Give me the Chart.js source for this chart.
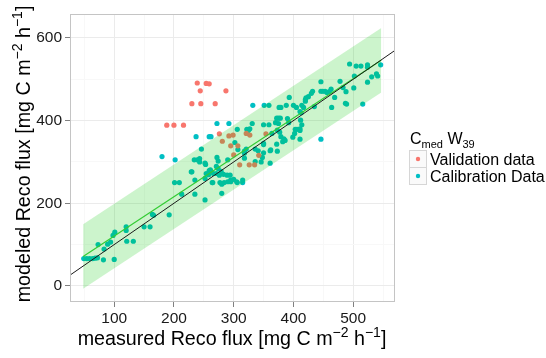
<!DOCTYPE html>
<html>
<head>
<meta charset="utf-8">
<script src="https://cdn.jsdelivr.net/npm/chart.js@4.4.0/dist/chart.umd.min.js"></script>
<style>
  html, body { margin: 0; padding: 0; background: #fff; }
  canvas { display: block; }
</style>
</head>
<body>
<canvas id="chart" width="546" height="358"></canvas>
<script>
// Calibration data (teal) as [measured, modeled]
const calibrationPoints = [
  [49,66],[54,66],[59,66],[64,66],[68,67],[72,68],[73,100],[82,63],[83,89],[89,101],
  [94,106],[98,122],[101,130],[100,64],[120,143],[120,134],[121,108],[132,108],[150,143],[160,143],
  [164,173],[166,171],[192,172],[201,250],[209,250],[213,222],[235,222],[229,276],[235,256],
  [180,313],[202,305],[237,361],[259,361],[262,361],[246,331],[234,305],[239,305],[243,308],[243,300],
  [253,294],[230,276],[259,279],[262,277],[274,302],[271,289],[254,272],[266,272],[271,272],[276,268],
  [283,270],[289,268],[294,268],[265,250],[277,250],[284,250],[295,252],[295,256],[306,250],[315,256],
  [315,250],[280,246],[280,224],
  [272,393],[292,393],[306,379],[322,379],[327,380],[331,393],[350,390],[359,390],[370,395],[375,393],
  [364,369],[373,377],[377,372],[384,356],[386,352],[382,349],[402,369],[406,379],[411,376],[414,390],
  [302,347],[318,326],[321,331],[336,331],[341,327],[350,342],[362,329],[373,326],[346,300],[290,305],
  [272,311],[252,297],[261,281],[274,284],[279,277],[258,269],[252,260],[290,252],[264,250],[252,208],
  [332,437],[351,437],[359,437],[376,432],[379,432],[388,437],[393,456],[400,437],[405,432],[414,437],
  [417,432],[421,455],[425,458],[430,466],[432,471],[435,434],[446,471],[449,471],[453,471],[464,432],
  [446,355],[325,377],[323,369],[372,406],[375,406],[378,406],[392,395],[390,405],[413,419],[403,379],
  [411,355],[379,361],[399,360],[372,343],[350,345],[361,327],[318,321],[350,322],[300,258],[305,252],
  [307,330],[318,309],[336,301],[361,297],[348,311],
  [494,537],[505,532],[513,532],[524,535],[524,529],[546,535],[541,508],[531,506],[524,493],[502,508],
  [501,479],[488,470],[478,495],[487,442],[489,440],[516,440],[469,456],[463,476],[446,494],[456,468],
  [460,470],[420,451],[420,447],[411,422],[412,401],[411,380],[539,513],[483,480]
];

// Validation data (red)
const validationPoints = [
  [188,389],[200,389],[216,389],[230,441],[245,441],[269,441],[239,491],[254,490],[259,489],[244,472],
  [287,472],[276,368],[281,350],[292,363],[299,365],[295,339],[307,339],[321,369],[327,365],[354,368],
  [300,317],[310,293],[326,293],[335,293],[342,316]
];

// lines: 1:1 line, fitted line and its band
const oneToOneX = [26, 570];
const fitX = [48, 547];
const fitY = [71, 546];
const bandUpper = [149, 624];
const bandLower = [-7, 468];

// axes
const xRange = [26, 570];
const yRange = [-39, 658];
const xTicks = [100, 200, 300, 400, 500];
const xMinor = [50, 150, 250, 350, 450, 550];
const yTicks = [0, 200, 400, 600];
const yMinor = [100, 300, 500];

const TEAL = '#00BFC4';
const RED = '#F8766D';
const FONT = '"Liberation Sans", Arial, Helvetica, sans-serif';

const toXY = arr => arr.map(p => ({ x: p[0], y: p[1] }));
const isMajor = (v, majors) => majors.includes(v);

function setTicks(majors, minors) {
  return scale => {
    scale.ticks = majors.concat(minors).sort((a, b) => a - b).map(v => ({ value: v }));
  };
}

function gridColor(majors) {
  return c => (c.tick && isMajor(c.tick.value, majors)) ? '#ebebeb' : '#f8f8f8';
}
function tickColor(majors) {
  return c => (c.tick && isMajor(c.tick.value, majors)) ? '#808080' : 'rgba(0,0,0,0)';
}

// draw a string with super/subscripts, centred on 0 at baseline 0
function drawRich(ctx, parts, size) {
  const small = Math.round(size * 0.72);
  let total = 0;
  parts.forEach(p => {
    ctx.font = (p.sup || p.sub ? small : size) + 'px ' + FONT;
    p.w = ctx.measureText(p.t).width;
    total += p.w;
  });
  let x = -total / 2;
  parts.forEach(p => {
    ctx.font = (p.sup || p.sub ? small : size) + 'px ' + FONT;
    let dy = 0;
    if (p.sup) dy = -size * 0.42;
    if (p.sub) dy = size * 0.22;
    ctx.fillText(p.t, x, dy);
    x += p.w;
  });
  return total;
}

const decorations = {
  id: 'decorations',
  afterDraw(chart) {
    const ctx = chart.ctx;
    const a = chart.chartArea;
    ctx.save();
    // panel border
    ctx.strokeStyle = '#c4c4c4';
    ctx.lineWidth = 1;
    ctx.strokeRect(a.left + 0.5, a.top + 0.5, a.right - a.left - 1, a.bottom - a.top - 1);

    ctx.fillStyle = '#000';
    ctx.textBaseline = 'alphabetic';
    ctx.textAlign = 'left';
    const unit = [{ t: ' [mg C m' }, { t: '\u22122', sup: true }, { t: ' h' }, { t: '\u22121', sup: true }, { t: ']' }];

    // x title
    ctx.save();
    ctx.translate(232, 345);
    drawRich(ctx, [{ t: 'measured Reco flux' }].concat(unit), 19.7);
    ctx.restore();

    // y title
    ctx.save();
    ctx.translate(30, 154);
    ctx.rotate(-Math.PI / 2);
    drawRich(ctx, [{ t: 'modeled Reco flux' }].concat(unit), 19.7);
    ctx.restore();

    // legend
    ctx.save();
    ctx.translate(410, 144);
    let x = 0;
    [{ t: 'C' }, { t: 'med', sub: true }, { t: ' W' }, { t: '39', sub: true }].forEach(p => {
      const s = p.sub ? 11 : 16;
      ctx.font = s + 'px ' + FONT;
      ctx.fillText(p.t, x, p.sub ? 4 : 0);
      x += ctx.measureText(p.t).width;
    });
    ctx.restore();

    const rows = [
      { label: 'Validation data', color: RED },
      { label: 'Calibration Data', color: TEAL }
    ];
    rows.forEach((r, i) => {
      const top = 150 + i * 17;
      ctx.fillStyle = '#fafafa';
      ctx.fillRect(409, top, 17, 17);
      ctx.strokeStyle = '#d6d6d6';
      ctx.strokeRect(409.5, top + 0.5, 17, 17);
      ctx.fillStyle = r.color;
      ctx.beginPath();
      ctx.arc(418, top + 9, 2.2, 0, Math.PI * 2);
      ctx.fill();
      ctx.fillStyle = '#000';
      ctx.font = '16px ' + FONT;
      ctx.fillText(r.label, 430, top + 15);
    });
    ctx.restore();
  }
};

new Chart(document.getElementById('chart'), {
  type: 'scatter',
  data: {
    datasets: [
      {
        label: '1:1',
        data: toXY(oneToOneX.map(v => [v, v])),
        showLine: true,
        borderColor: '#1a1a1a',
        borderWidth: 1,
        pointRadius: 0
      },
      {
        label: 'fit',
        data: toXY(fitX.map((v, i) => [v, fitY[i]])),
        showLine: true,
        borderColor: '#33cc33',
        borderWidth: 1.2,
        pointRadius: 0
      },
      {
        label: 'band upper',
        data: toXY(fitX.map((v, i) => [v, bandUpper[i]])),
        showLine: true,
        borderWidth: 0,
        borderColor: 'rgba(0,0,0,0)',
        pointRadius: 0,
        fill: '+1',
        backgroundColor: 'rgba(0,200,0,0.2)'
      },
      {
        label: 'band lower',
        data: toXY(fitX.map((v, i) => [v, bandLower[i]])),
        showLine: true,
        borderWidth: 0,
        borderColor: 'rgba(0,0,0,0)',
        pointRadius: 0
      },
      {
        label: 'Validation data',
        data: toXY(validationPoints),
        pointRadius: 2.6,
        pointBorderWidth: 0,
        backgroundColor: RED
      },
      {
        label: 'Calibration Data',
        data: toXY(calibrationPoints),
        pointRadius: 2.6,
        pointBorderWidth: 0,
        backgroundColor: TEAL
      }
    ]
  },
  options: {
    responsive: false,
    animation: false,
    devicePixelRatio: 1,
    layout: { padding: { left: 0, top: 14, right: 151, bottom: 0 } },
    plugins: {
      legend: { display: false },
      tooltip: { enabled: false }
    },
    scales: {
      x: {
        type: 'linear',
        min: xRange[0],
        max: xRange[1],
        afterBuildTicks: setTicks(xTicks, xMinor),
        afterFit: s => { s.height = 56; },
        border: { display: false },
        grid: { color: gridColor(xTicks), tickColor: tickColor(xTicks), tickLength: 5 },
        ticks: {
          autoSkip: false,
          maxRotation: 0,
          padding: 2,
          color: '#1a1a1a',
          font: { family: FONT, size: 15.5 },
          callback: v => isMajor(v, xTicks) ? String(v) : ''
        }
      },
      y: {
        type: 'linear',
        min: yRange[0],
        max: yRange[1],
        afterBuildTicks: setTicks(yTicks, yMinor),
        afterFit: s => { s.width = 70; },
        border: { display: false },
        grid: { color: gridColor(yTicks), tickColor: tickColor(yTicks), tickLength: 5 },
        ticks: {
          autoSkip: false,
          padding: 3,
          color: '#1a1a1a',
          font: { family: FONT, size: 15.5 },
          callback: v => isMajor(v, yTicks) ? String(v) : ''
        }
      }
    }
  },
  plugins: [decorations]
});
</script>
</body>
</html>
